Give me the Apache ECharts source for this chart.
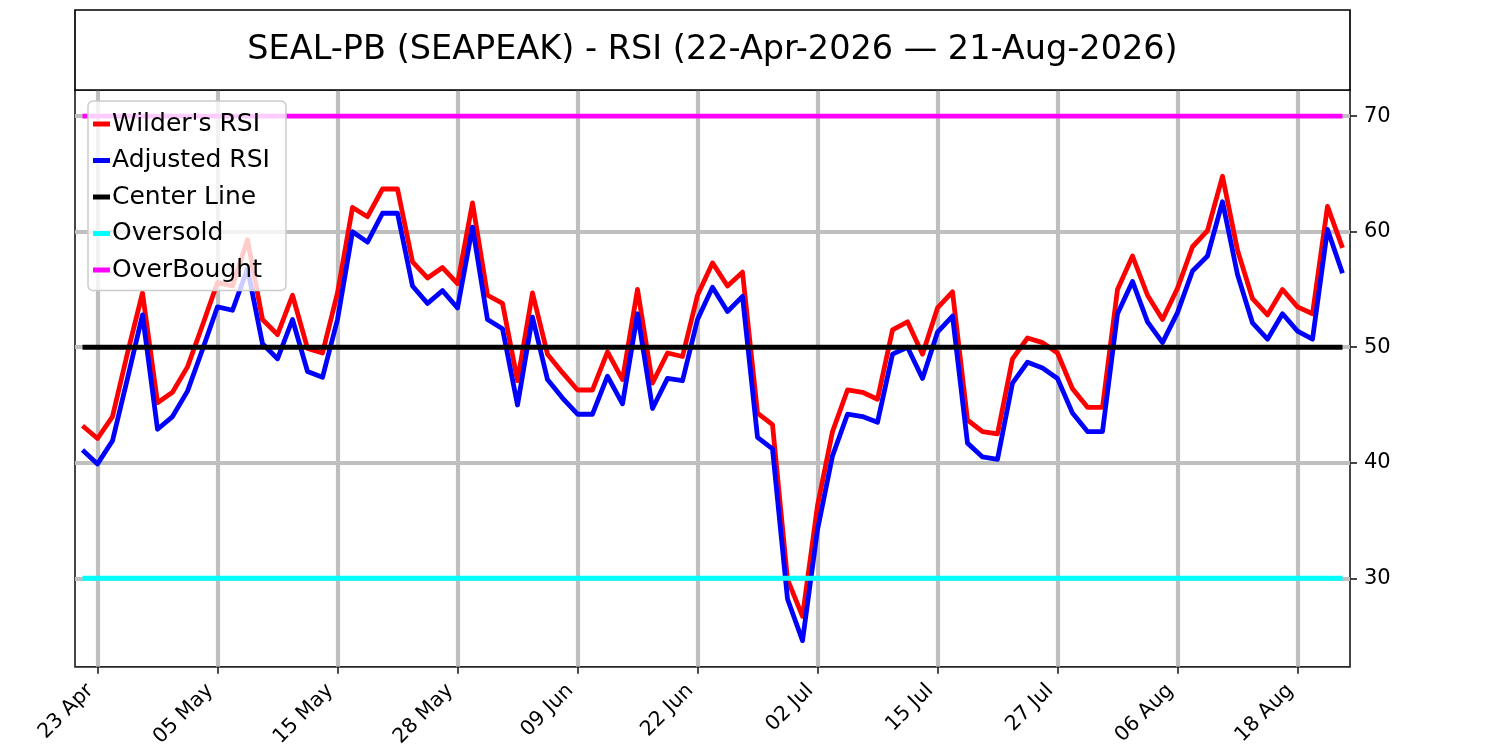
<!DOCTYPE html>
<html>
<head>
<meta charset="utf-8">
<title>SEAL-PB RSI</title>
<script src="https://cdn.jsdelivr.net/npm/echarts@6/dist/echarts.min.js"></script>
<style>
    html, body { margin: 0; padding: 0; background: #fff; }
    #container { width: 1500px; height: 750px; }
</style>
</head>
<body>
<div id="container"></div>
<script type="text/javascript">
// trading days 22-Apr-2026 .. 21-Aug-2026
var dates = [
    '22 Apr','23 Apr','24 Apr','27 Apr','28 Apr','29 Apr','30 Apr',
    '01 May','04 May','05 May','06 May','07 May','08 May','11 May','12 May','13 May','14 May','15 May',
    '18 May','19 May','20 May','21 May','22 May','26 May','27 May','28 May','29 May',
    '01 Jun','02 Jun','03 Jun','04 Jun','05 Jun','08 Jun','09 Jun','10 Jun','11 Jun','12 Jun',
    '15 Jun','16 Jun','17 Jun','18 Jun','22 Jun','23 Jun','24 Jun','25 Jun','26 Jun','29 Jun','30 Jun',
    '01 Jul','02 Jul','06 Jul','07 Jul','08 Jul','09 Jul','10 Jul','13 Jul','14 Jul','15 Jul','16 Jul','17 Jul',
    '20 Jul','21 Jul','22 Jul','23 Jul','24 Jul','27 Jul','28 Jul','29 Jul','30 Jul','31 Jul',
    '03 Aug','04 Aug','05 Aug','06 Aug','07 Aug','10 Aug','11 Aug','12 Aug','13 Aug','14 Aug',
    '17 Aug','18 Aug','19 Aug','20 Aug','21 Aug'
];

var wilderRsi = [
    43.2, 42.1, 44.0, 49.5, 54.7, 45.2, 46.1, 48.3, 51.9, 55.6,
    55.3, 59.3, 52.4, 51.1, 54.5, 49.9, 49.5, 54.7, 62.1, 61.3,
    63.7, 63.7, 57.4, 56.0, 56.9, 55.5, 62.5, 54.5, 53.8, 47.1,
    54.7, 49.4, 47.8, 46.3, 46.3, 49.6, 47.2, 55.0, 46.9, 49.5,
    49.2, 54.5, 57.3, 55.3, 56.5, 44.3, 43.3, 29.9, 26.7, 36.3,
    42.7, 46.3, 46.1, 45.5, 51.5, 52.2, 49.4, 53.4, 54.8, 43.7,
    42.7, 42.5, 49.0, 50.8, 50.4, 49.5, 46.4, 44.8, 44.8, 55.0,
    57.9, 54.5, 52.4, 55.1, 58.7, 60.1, 64.8, 58.4, 54.2, 52.8,
    55.0, 53.5, 52.9, 62.2, 58.6
];

var adjustedRsi = [
    41.1, 39.9, 41.9, 47.3, 52.8, 42.9, 44.0, 46.2, 49.8, 53.5,
    53.2, 56.8, 50.3, 49.0, 52.4, 47.9, 47.4, 52.4, 60.0, 59.1,
    61.6, 61.6, 55.3, 53.8, 54.9, 53.4, 60.4, 52.4, 51.6, 45.0,
    52.6, 47.2, 45.6, 44.2, 44.2, 47.5, 45.1, 52.9, 44.7, 47.3,
    47.1, 52.4, 55.2, 53.1, 54.4, 42.2, 41.2, 28.2, 24.6, 34.2,
    40.6, 44.2, 44.0, 43.5, 49.4, 50.0, 47.3, 51.3, 52.7, 41.7,
    40.5, 40.3, 46.9, 48.7, 48.2, 47.3, 44.3, 42.7, 42.7, 52.9,
    55.7, 52.2, 50.4, 53.0, 56.6, 57.9, 62.6, 56.3, 52.1, 50.7,
    52.9, 51.4, 50.7, 60.2, 56.4
];

var centerLevel = 50;
var oversoldLevel = 30;
var overboughtLevel = 70;
var yTicks = [30, 40, 50, 60, 70];
var tickEvery = 8;   // a date label every 8 sessions, starting at 23 Apr
var tickStart = 1;

var titleText = 'SEAL-PB (SEAPEAK) - RSI (22-Apr-2026 \u2014 21-Aug-2026)';

function levelLine(v) {
    return dates.map(function () { return v; });
}

// matplotlib style 5% margin around the data
var allVals = wilderRsi.concat(adjustedRsi, [centerLevel, oversoldLevel, overboughtLevel]);
var lo = Math.min.apply(null, allVals);
var hi = Math.max.apply(null, allVals);
var pad = (hi - lo) * 0.05;

function isTick(idx) {
    return idx % tickEvery === tickStart;
}

var font = 'DejaVu Sans';
var gridColor = '#bfbfbf';
var lw = 4.8;

var myChart = echarts.init(document.getElementById('container'));

var option = {
    animation: false,
    backgroundColor: '#ffffff',
    textStyle: { fontFamily: font },
    graphic: [
        {
            type: 'rect',
            shape: { x: 75, y: 10, width: 1275, height: 80 },
            style: { fill: '#ffffff', stroke: '#000000', lineWidth: 1.7 },
            z: 10
        },
        {
            type: 'text',
            x: 712.5,
            y: 50,
            style: {
                text: titleText,
                fill: '#000000',
                font: '33.5px "DejaVu Sans"',
                align: 'center',
                verticalAlign: 'middle'
            },
            z: 11
        }
    ],
    legend: {
        orient: 'vertical',
        left: 88,
        top: 101,
        padding: [10.5, 16, 8, 5],
        itemWidth: 17,
        itemHeight: 5,
        itemGap: 11.5,
        icon: 'rect',
        backgroundColor: 'rgba(255,255,255,0.8)',
        borderColor: '#cccccc',
        borderWidth: 1.5,
        borderRadius: 5,
        textStyle: { fontFamily: font, fontSize: 25, lineHeight: 25, color: '#000000', padding: [0, 0, 0, -3] },
        data: ["Wilder's RSI", 'Adjusted RSI', 'Center Line', 'Oversold', 'OverBought']
    },
    grid: {
        left: 75,
        right: 150,
        top: 90,
        bottom: 82,
        show: true,
        borderColor: '#262626',
        borderWidth: 1.7,
        backgroundColor: 'transparent'
    },
    xAxis: {
        type: 'category',
        data: dates,
        boundaryGap: true,
        axisLine: { show: false },
        axisTick: {
            show: true,
            alignWithLabel: true,
            interval: isTick,
            length: 7,
            lineStyle: { color: '#262626', width: 1.7 }
        },
        axisLabel: {
            interval: isTick,
            rotate: 45,
            align: 'right',
            verticalAlign: 'bottom',
            margin: 28,
            fontFamily: font,
            fontSize: 20.5,
            color: '#000000'
        },
        splitLine: {
            show: true,
            alignWithLabel: true,
            interval: isTick,
            lineStyle: { color: gridColor, width: 4.2 }
        }
    },
    yAxis: {
        type: 'value',
        position: 'right',
        min: lo - pad,
        max: hi + pad,
        axisLine: { show: false },
        axisTick: {
            show: true,
            customValues: yTicks,
            length: 7,
            lineStyle: { color: '#262626', width: 1.7 }
        },
        axisLabel: {
            customValues: yTicks,
            margin: 14,
            fontFamily: font,
            fontSize: 21,
            color: '#000000'
        },
        splitLine: {
            show: true,
            lineStyle: { color: gridColor, width: 4.2 }
        }
    },
    series: [
        {
            name: "Wilder's RSI",
            type: 'line',
            data: wilderRsi,
            showSymbol: false,
            color: '#ff0000',
            lineStyle: { color: '#ff0000', width: lw, join: 'round' }
        },
        {
            name: 'Adjusted RSI',
            type: 'line',
            data: adjustedRsi,
            showSymbol: false,
            color: '#0000ff',
            lineStyle: { color: '#0000ff', width: lw, join: 'round' }
        },
        {
            name: 'Center Line',
            type: 'line',
            data: levelLine(centerLevel),
            showSymbol: false,
            color: '#000000',
            lineStyle: { color: '#000000', width: lw }
        },
        {
            name: 'Oversold',
            type: 'line',
            data: levelLine(oversoldLevel),
            showSymbol: false,
            color: '#00ffff',
            lineStyle: { color: '#00ffff', width: lw }
        },
        {
            name: 'OverBought',
            type: 'line',
            data: levelLine(overboughtLevel),
            showSymbol: false,
            color: '#ff00ff',
            lineStyle: { color: '#ff00ff', width: lw }
        }
    ]
};

myChart.setOption(option);
</script>
</body>
</html>
